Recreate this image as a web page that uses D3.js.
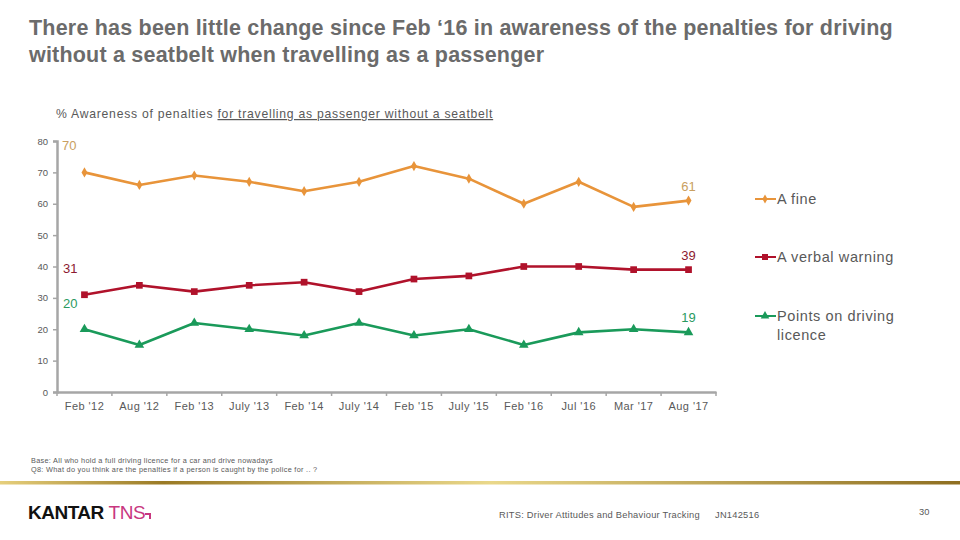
<!DOCTYPE html>
<html><head><meta charset="utf-8">
<script src="https://cdn.jsdelivr.net/npm/d3@7"></script>
<style>body{margin:0;background:#fff;} svg{display:block;font-family:"Liberation Sans",Arial,sans-serif;}</style>
</head><body>
<svg id="c" width="960" height="540"></svg>
<script>
const categories = ["Feb '12","Aug '12","Feb '13","July '13","Feb '14","July '14","Feb '15","July '15","Feb '16","Jul '16","Mar '17","Aug '17"];
const fineValues = [70,66,69,67,64,67,72,68,60,67,59,61];
const warningValues = [31,34,32,34,35,32,36,37,40,40,39,39];
const pointsValues = [20,15,22,20,18,22,18,20,15,19,20,19];
const yTicks = [0,10,20,30,40,50,60,70,80];
const seriesNames = ["A fine","A verbal warning","Points on driving licence"];

(function(){
const series = [
  {name: seriesNames[0], values: fineValues, color: "#E8943A", label: "#C9A060", sym: d3.symbolDiamond, size: 30, ly: 199, lines:["A fine"]},
  {name: seriesNames[1], values: warningValues, color: "#B0122B", label: "#8C1A30", sym: d3.symbolSquare, size: 45, ly: 257, lines:["A verbal warning"]},
  {name: seriesNames[2], values: pointsValues, color: "#1A9A5A", label: "#2A9A60", sym: d3.symbolTriangle, size: 40, ly: 316, lines:["Points on driving","licence"]}
];

const svg = d3.select("#c");
const mLeft = 57, mRight = 716, mTop = 141, mBottom = 392;
const x = d3.scaleBand().domain(categories).range([mLeft, mRight]);
const y = d3.scaleLinear().domain([0,80]).range([mBottom, mTop]);

// Title
const title = svg.append("text").attr("fill","#6B6B6B").attr("font-size",21.5).attr("font-weight","bold").attr("letter-spacing",0.2);
title.append("tspan").attr("x",29).attr("y",35).text("There has been little change since Feb \u201816 in awareness of the penalties for driving");
title.append("tspan").attr("x",29).attr("y",62).text("without a seatbelt when travelling as a passenger");

// Subtitle
const sub = svg.append("text").attr("x",56).attr("y",118).attr("fill","#595959").attr("font-size",12.2).attr("letter-spacing",0.75);
sub.append("tspan").text("% Awareness of penalties ");
sub.append("tspan").attr("text-decoration","underline").text("for travelling as passenger without a seatbelt");

// Axes
const yAxis = svg.append("g").attr("transform",`translate(${mLeft},0)`)
  .call(d3.axisLeft(y).tickValues(yTicks).tickSize(4).tickPadding(5));
yAxis.select(".domain").attr("stroke","#A6A6A6").attr("stroke-width",2.5);
yAxis.selectAll(".tick line").attr("stroke","#A6A6A6").attr("stroke-width",1.5);
yAxis.selectAll(".tick text").attr("fill","#595959").attr("font-size",9.5).attr("font-family","Liberation Sans, Arial, sans-serif");

const xAxis = svg.append("g").attr("transform",`translate(0,${mBottom})`)
  .call(d3.axisBottom(x).tickSize(0).tickPadding(10));
xAxis.select(".domain").attr("stroke","#A6A6A6").attr("stroke-width",2.5);
xAxis.selectAll(".tick text").attr("fill","#595959").attr("font-size",11).attr("letter-spacing",0.45).attr("font-family","Liberation Sans, Arial, sans-serif");
const bounds = categories.map(c => x(c)).concat([mRight]);
svg.append("g").selectAll("line").data(bounds).join("line")
  .attr("x1",d=>d).attr("x2",d=>d).attr("y1",mBottom).attr("y2",mBottom+4)
  .attr("stroke","#A6A6A6").attr("stroke-width",1.5);

const cx = c => x(c) + x.bandwidth()/2;
const line = d3.line().x((d,i)=>cx(categories[i])).y(d=>y(d));

series.forEach(s => {
  svg.append("path").attr("d", line(s.values)).attr("fill","none")
    .attr("stroke", s.color).attr("stroke-width",2.6).attr("stroke-linejoin","round");
  svg.append("g").selectAll("path").data(s.values).join("path")
    .attr("transform",(d,i)=>`translate(${cx(categories[i])},${y(d)})`)
    .attr("d", d3.symbol().type(s.sym).size(s.size)).attr("fill", s.color);
  const last = s.values[s.values.length-1];
  svg.append("text").attr("x", cx(categories[categories.length-1])).attr("y", y(last)-10)
    .attr("text-anchor","middle").attr("fill", s.label).attr("font-size",13).text(last);
  svg.append("line").attr("x1",755).attr("x2",776).attr("y1",s.ly).attr("y2",s.ly)
    .attr("stroke",s.color).attr("stroke-width",2);
  svg.append("path").attr("transform",`translate(765,${s.ly})`)
    .attr("d", d3.symbol().type(s.sym).size(s.size*0.8)).attr("fill", s.color);
  const lt = svg.append("text").attr("fill","#595959").attr("font-size",14.5).attr("letter-spacing",0.6);
  s.lines.forEach((t,k)=>lt.append("tspan").attr("x",777).attr("y",s.ly+5+k*19).text(t));
});

svg.append("text").attr("x",62).attr("y",150).attr("fill",series[0].label).attr("font-size",13).text(fineValues[0]);
svg.append("text").attr("x",63).attr("y",273).attr("fill",series[1].label).attr("font-size",13).text(warningValues[0]);
svg.append("text").attr("x",63).attr("y",308).attr("fill",series[2].label).attr("font-size",13).text(pointsValues[0]);

const fn = svg.append("text").attr("fill","#595959").attr("font-size",7.3).attr("letter-spacing",0.3);
fn.append("tspan").attr("x",31).attr("y",463).text("Base: All who hold a full driving licence for a car and drive nowadays");
fn.append("tspan").attr("x",31).attr("y",472).text("Q8: What do you think are the penalties if a person is caught by the police for .. ?");

const defs = svg.append("defs");
const g = defs.append("linearGradient").attr("id","gold").attr("x1","0").attr("x2","1");
[[0,"#E6CF7C"],[0.17,"#9A7A25"],[0.51,"#EAD88A"],[1,"#8E6E20"]].forEach(([o,c])=>g.append("stop").attr("offset",o).attr("stop-color",c));
svg.append("rect").attr("x",0).attr("y",481).attr("width",960).attr("height",3.5).attr("fill","url(#gold)");

svg.append("text").attr("x",499).attr("y",518).attr("fill","#595959").attr("font-size",9.3).attr("letter-spacing",0.25).text("RITS: Driver Attitudes and Behaviour Tracking");
svg.append("text").attr("x",715).attr("y",518).attr("fill","#595959").attr("font-size",9.3).attr("letter-spacing",0.25).text("JN142516");
svg.append("text").attr("x",919).attr("y",515).attr("fill","#595959").attr("font-size",9.3).text("30");

const logo = svg.append("text").attr("x",28).attr("y",519).attr("font-size",19).attr("font-weight","bold").attr("letter-spacing",-0.5);
logo.append("tspan").attr("fill","#111").text("KANTAR ");
logo.append("tspan").attr("fill","#C8377F").attr("font-weight","normal").text("TNS");
svg.append("path").attr("d","M145,513 h6 v6 h-2 v-4 h-4 z").attr("fill","#C8377F");
})();
</script>
</body></html>
